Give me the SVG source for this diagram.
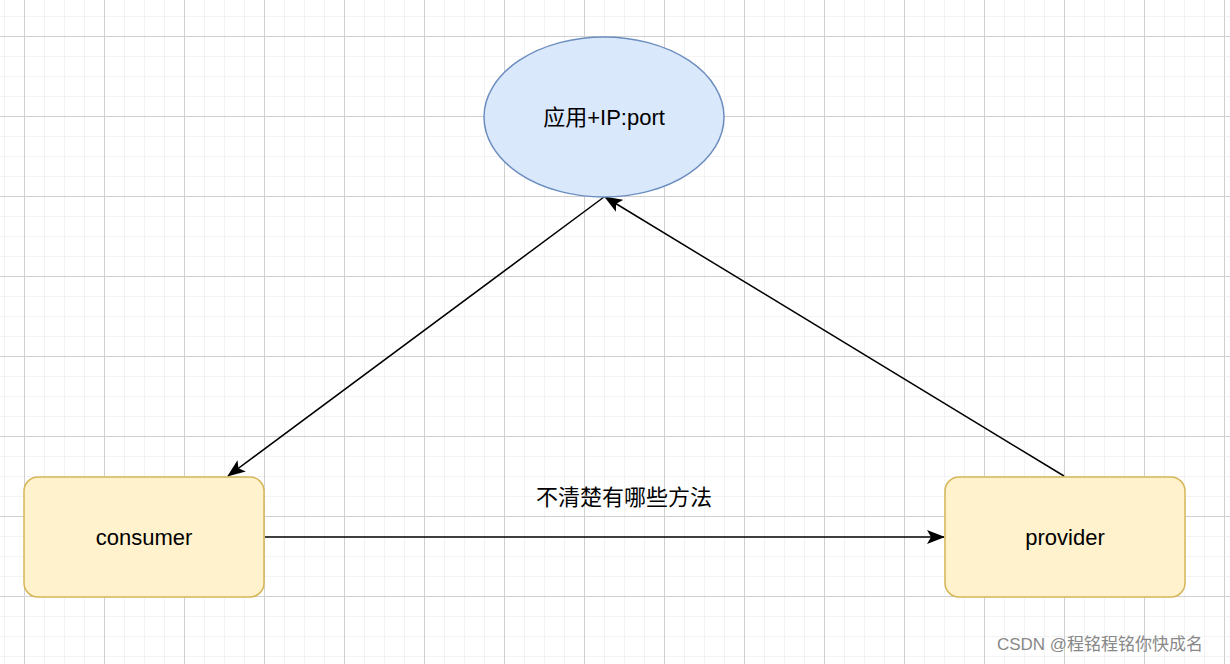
<svg xmlns="http://www.w3.org/2000/svg" width="1230" height="664" viewBox="0 0 1230 664">
<style>
text{font-family:"Liberation Sans","Noto Sans CJK SC",sans-serif;font-size:22px;fill:#000;text-anchor:middle;dominant-baseline:central}
.box{fill:#fff2cc;stroke:#d6b656;stroke-width:1.5}
.edge{stroke:#000;stroke-width:1.5;fill:none}
</style>
<defs>
<pattern id="minor" width="20" height="20" x="4" y="16" patternUnits="userSpaceOnUse"><path d="M0 0H20M0 0V20" stroke="#f0f0f0" stroke-width="1.5" fill="none"/></pattern>
<pattern id="major" width="80" height="80" x="24" y="36" patternUnits="userSpaceOnUse"><path d="M0 0.5H80M0.5 0V80" stroke="#d0d0d0" stroke-width="1" fill="none"/></pattern>
<marker id="arr" markerWidth="18" markerHeight="14" refX="17" refY="7" orient="auto" markerUnits="userSpaceOnUse"><path d="M0 0L18 7L0 14L4 7Z" fill="#000"/></marker>
</defs>
<rect width="1230" height="664" fill="#fff"/>
<rect width="1230" height="664" fill="url(#minor)"/>
<rect width="1230" height="664" fill="url(#major)"/>
<g id="edges">
<path class="edge" d="M604 197L228 476" marker-end="url(#arr)"/>
<path class="edge" d="M1064 476L605 197" marker-end="url(#arr)"/>
<path class="edge" d="M265 537L944 537" marker-end="url(#arr)"/>
<text x="624" y="497">不清楚有哪些方法</text>
</g>
<g id="registry"><ellipse cx="604" cy="117" rx="120" ry="80" fill="#dae8fc" stroke="#6c8ebf" stroke-width="1.5"/><text x="604" y="117">应用+IP:port</text></g>
<g id="consumer"><rect class="box" x="24" y="477" width="240" height="120" rx="14"/><text x="144" y="537">consumer</text></g>
<g id="provider"><rect class="box" x="945" y="477" width="240" height="120" rx="14"/><text x="1065" y="537">provider</text></g>
<text x="1100" y="644" style="font-size:17px;fill:#888">CSDN @程铭程铭你快成名</text>
</svg>
